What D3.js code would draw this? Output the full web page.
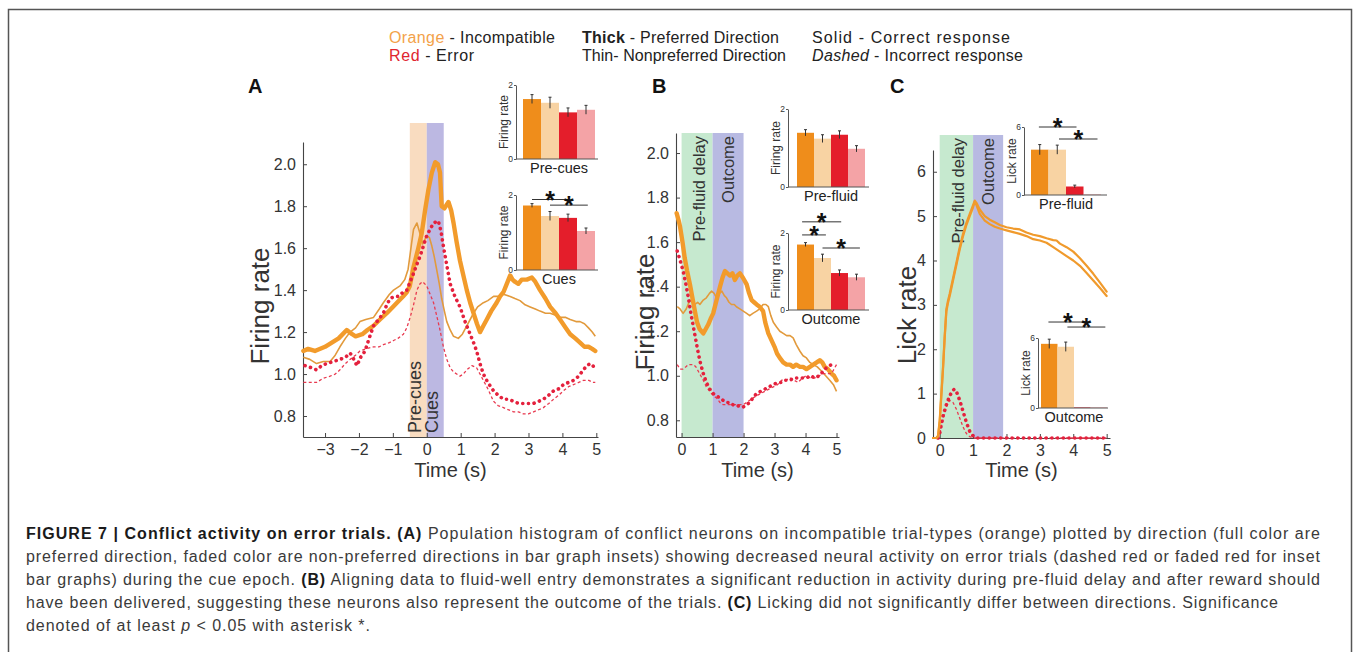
<!DOCTYPE html>
<html>
<head>
<meta charset="utf-8">
<script src="https://cdn.jsdelivr.net/npm/d3@7"></script>
<style>
  body { margin: 0; background: #fff; }
  svg { display: block; font-family: "Liberation Sans", Arial, Helvetica, sans-serif; }
</style>
</head>
<body>
<svg id="fig" width="1354" height="652"></svg>
<script>
// ---- panel A traces: [time (s), firing rate] ----
var aThickOrange = [[-3.64,1.11],[-3.5,1.12],[-3.3,1.11],[-3.0,1.13],[-2.8,1.15],[-2.6,1.17],[-2.36,1.21],[-2.2,1.19],[-2.1,1.18],[-1.9,1.19],[-1.75,1.21],[-1.57,1.23],[-1.38,1.26],[-1.18,1.29],[-1.0,1.32],[-0.88,1.34],[-0.7,1.37],[-0.59,1.39],[-0.5,1.42],[-0.39,1.51],[-0.25,1.6],[-0.15,1.67],[-0.05,1.78],[0.05,1.88],[0.15,1.96],[0.25,2.01],[0.33,2.0],[0.39,1.96],[0.44,1.8],[0.52,1.79],[0.64,1.82],[0.72,1.78],[0.79,1.72],[0.88,1.63],[0.98,1.54],[1.08,1.47],[1.18,1.40],[1.28,1.34],[1.38,1.29],[1.48,1.24],[1.57,1.20],[1.67,1.23],[1.77,1.26],[1.9,1.30],[2.06,1.34],[2.16,1.37],[2.26,1.39],[2.36,1.43],[2.46,1.47],[2.53,1.45],[2.6,1.44],[2.7,1.43],[2.8,1.45],[2.95,1.45],[3.1,1.46],[3.2,1.44],[3.34,1.40],[3.5,1.36],[3.64,1.32],[3.8,1.29],[3.93,1.26],[4.1,1.22],[4.23,1.19],[4.38,1.17],[4.52,1.15],[4.65,1.13],[4.77,1.13],[4.88,1.12],[4.97,1.11]];
var aThinOrange = [[-3.64,1.08],[-3.45,1.07],[-3.25,1.05],[-3.05,1.06],[-2.85,1.06],[-2.7,1.09],[-2.56,1.13],[-2.4,1.17],[-2.26,1.20],[-2.1,1.22],[-1.97,1.25],[-1.8,1.26],[-1.57,1.27],[-1.4,1.31],[-1.28,1.34],[-1.1,1.38],[-0.98,1.40],[-0.79,1.42],[-0.65,1.45],[-0.55,1.50],[-0.45,1.62],[-0.39,1.69],[-0.29,1.72],[-0.2,1.67],[-0.12,1.62],[0.0,1.66],[0.08,1.65],[0.15,1.61],[0.22,1.56],[0.29,1.50],[0.37,1.43],[0.44,1.36],[0.52,1.30],[0.59,1.25],[0.69,1.21],[0.79,1.18],[0.93,1.17],[1.05,1.19],[1.18,1.23],[1.28,1.26],[1.38,1.29],[1.5,1.32],[1.67,1.34],[1.8,1.35],[1.97,1.37],[2.1,1.37],[2.26,1.38],[2.46,1.37],[2.6,1.36],[2.75,1.35],[2.9,1.33],[3.05,1.32],[3.2,1.31],[3.34,1.30],[3.5,1.29],[3.64,1.29],[3.8,1.28],[3.93,1.27],[4.1,1.27],[4.23,1.26],[4.4,1.25],[4.52,1.25],[4.65,1.24],[4.77,1.22],[4.88,1.20],[4.97,1.18]];
var aThickRed = [[-3.59,1.04],[-3.4,1.03],[-3.25,1.02],[-3.1,1.04],[-2.95,1.05],[-2.75,1.06],[-2.56,1.07],[-2.4,1.08],[-2.26,1.10],[-2.15,1.07],[-2.06,1.04],[-1.95,1.08],[-1.82,1.11],[-1.7,1.17],[-1.57,1.23],[-1.42,1.26],[-1.28,1.29],[-1.18,1.33],[-1.08,1.36],[-0.95,1.37],[-0.84,1.37],[-0.7,1.39],[-0.59,1.40],[-0.49,1.44],[-0.39,1.48],[-0.3,1.52],[-0.2,1.56],[-0.1,1.61],[0.0,1.66],[0.1,1.69],[0.2,1.72],[0.34,1.73],[0.42,1.68],[0.49,1.61],[0.59,1.52],[0.69,1.43],[0.83,1.37],[0.98,1.32],[1.13,1.25],[1.28,1.19],[1.38,1.15],[1.47,1.11],[1.57,1.05],[1.67,1.00],[1.8,0.96],[1.97,0.92],[2.1,0.90],[2.26,0.88],[2.4,0.88],[2.56,0.87],[2.7,0.86],[2.85,0.86],[3.0,0.86],[3.15,0.86],[3.3,0.87],[3.44,0.88],[3.6,0.90],[3.74,0.92],[3.9,0.93],[4.03,0.95],[4.18,0.96],[4.33,0.97],[4.48,0.99],[4.62,1.02],[4.72,1.04],[4.82,1.05],[4.9,1.04],[4.97,1.02]];
var aThinRed = [[-3.64,0.96],[-3.45,0.96],[-3.25,0.96],[-3.05,0.98],[-2.85,0.99],[-2.7,1.00],[-2.56,1.02],[-2.4,1.05],[-2.26,1.07],[-2.1,1.09],[-1.97,1.11],[-1.8,1.12],[-1.57,1.13],[-1.4,1.13],[-1.28,1.14],[-1.1,1.15],[-0.98,1.16],[-0.85,1.17],[-0.69,1.19],[-0.59,1.22],[-0.49,1.27],[-0.39,1.33],[-0.29,1.40],[-0.2,1.43],[-0.12,1.44],[0.0,1.42],[0.1,1.38],[0.2,1.34],[0.29,1.28],[0.39,1.21],[0.49,1.13],[0.59,1.07],[0.69,1.03],[0.79,1.01],[0.98,0.99],[1.08,1.00],[1.18,1.02],[1.33,1.04],[1.47,1.03],[1.57,1.00],[1.67,0.97],[1.8,0.93],[1.97,0.87],[2.1,0.85],[2.26,0.84],[2.4,0.83],[2.56,0.82],[2.7,0.82],[2.85,0.81],[3.0,0.81],[3.15,0.82],[3.3,0.83],[3.44,0.84],[3.6,0.86],[3.74,0.88],[3.9,0.90],[4.03,0.92],[4.18,0.94],[4.33,0.95],[4.48,0.96],[4.62,0.97],[4.78,0.97],[4.9,0.96],[4.97,0.96]];

// ---- panel B traces ----
var bThickOrange = [[-0.16,1.73],[-0.1,1.70],[-0.05,1.67],[0.03,1.60],[0.1,1.53],[0.18,1.47],[0.27,1.41],[0.35,1.35],[0.43,1.29],[0.5,1.24],[0.58,1.21],[0.7,1.19],[0.78,1.21],[0.86,1.23],[0.95,1.26],[1.02,1.28],[1.13,1.34],[1.24,1.40],[1.32,1.44],[1.4,1.47],[1.48,1.46],[1.56,1.45],[1.64,1.46],[1.72,1.43],[1.8,1.45],[1.88,1.46],[1.98,1.44],[2.1,1.41],[2.18,1.37],[2.26,1.34],[2.34,1.33],[2.42,1.32],[2.52,1.31],[2.63,1.29],[2.7,1.24],[2.8,1.19],[2.9,1.16],[3.0,1.13],[3.08,1.10],[3.17,1.08],[3.28,1.06],[3.39,1.05],[3.5,1.05],[3.6,1.04],[3.7,1.05],[3.82,1.04],[3.92,1.04],[4.03,1.03],[4.14,1.04],[4.25,1.05],[4.36,1.06],[4.46,1.07],[4.54,1.06],[4.62,1.04],[4.72,1.03],[4.84,1.01],[4.92,1.00],[5.0,0.98]];
var bThinOrange = [[-0.14,1.31],[-0.05,1.30],[0.05,1.28],[0.15,1.30],[0.27,1.34],[0.35,1.33],[0.43,1.32],[0.52,1.33],[0.59,1.32],[0.7,1.34],[0.8,1.35],[0.9,1.37],[0.97,1.38],[1.05,1.37],[1.13,1.35],[1.22,1.37],[1.3,1.38],[1.38,1.36],[1.45,1.35],[1.53,1.33],[1.61,1.32],[1.7,1.32],[1.77,1.31],[1.88,1.30],[1.99,1.29],[2.1,1.28],[2.2,1.27],[2.3,1.28],[2.42,1.29],[2.52,1.30],[2.63,1.32],[2.72,1.32],[2.8,1.31],[2.88,1.27],[2.96,1.24],[3.06,1.22],[3.17,1.20],[3.28,1.19],[3.39,1.18],[3.5,1.18],[3.6,1.17],[3.7,1.14],[3.82,1.11],[3.92,1.09],[4.03,1.08],[4.14,1.06],[4.25,1.05],[4.38,1.04],[4.52,1.02],[4.65,1.00],[4.78,0.98],[4.9,0.96],[5.0,0.93]];
var bThickRed = [[-0.14,1.56],[-0.05,1.52],[0.05,1.47],[0.14,1.41],[0.22,1.35],[0.3,1.28],[0.38,1.22],[0.46,1.16],[0.54,1.10],[0.62,1.05],[0.7,1.01],[0.8,0.97],[0.91,0.94],[1.02,0.92],[1.13,0.91],[1.24,0.90],[1.34,0.89],[1.45,0.88],[1.56,0.88],[1.66,0.87],[1.77,0.87],[1.88,0.86],[1.99,0.86],[2.1,0.87],[2.2,0.88],[2.3,0.90],[2.42,0.92],[2.55,0.93],[2.69,0.94],[2.82,0.95],[2.96,0.96],[3.1,0.97],[3.23,0.97],[3.36,0.98],[3.5,0.98],[3.63,0.99],[3.76,0.99],[3.9,0.99],[4.03,0.99],[4.16,1.00],[4.3,0.99],[4.44,1.00],[4.57,1.02],[4.7,1.04],[4.84,1.05],[4.95,1.04]];
var bThinRed = [[-0.14,1.05],[-0.05,1.03],[0.05,1.03],[0.14,1.04],[0.22,1.05],[0.3,1.05],[0.38,1.05],[0.46,1.04],[0.54,1.02],[0.62,1.00],[0.7,0.98],[0.8,0.95],[0.91,0.93],[1.02,0.91],[1.13,0.90],[1.24,0.88],[1.34,0.87],[1.45,0.87],[1.56,0.87],[1.66,0.87],[1.77,0.87],[1.88,0.87],[1.99,0.87],[2.1,0.88],[2.2,0.89],[2.3,0.90],[2.42,0.91],[2.55,0.92],[2.69,0.93],[2.82,0.94],[2.96,0.95],[3.1,0.96],[3.23,0.98],[3.36,0.98],[3.5,0.99],[3.63,0.98],[3.76,0.97],[3.9,0.99],[4.03,1.00],[4.16,0.99],[4.3,0.99],[4.44,1.00],[4.57,1.01],[4.7,1.01],[4.84,1.01],[4.92,1.03],[5.0,1.05]];

// ---- panel C traces: [time (s), lick rate] ----
var cThickOrange = [[-0.2,0],[-0.1,0],[-0.05,0.05],[0.0,0.4],[0.05,1.0],[0.1,1.6],[0.15,2.3],[0.2,2.9],[0.25,3.1],[0.3,3.25],[0.4,3.6],[0.5,3.95],[0.6,4.3],[0.7,4.6],[0.8,4.85],[0.9,5.05],[1.0,5.25],[1.05,5.35],[1.1,5.3],[1.2,5.15],[1.35,5.0],[1.5,4.92],[1.65,4.86],[1.8,4.8],[2.0,4.75],[2.2,4.72],[2.4,4.7],[2.6,4.63],[2.8,4.58],[3.0,4.55],[3.2,4.5],[3.4,4.46],[3.5,4.45],[3.6,4.38],[3.8,4.3],[4.0,4.2],[4.2,4.05],[4.4,3.88],[4.6,3.7],[4.8,3.5],[5.0,3.3]];
var cThinOrange = [[-0.2,0],[-0.1,0],[-0.05,0.03],[0.0,0.35],[0.05,0.95],[0.1,1.55],[0.15,2.25],[0.2,2.85],[0.25,3.05],[0.3,3.2],[0.4,3.55],[0.5,3.9],[0.6,4.25],[0.7,4.55],[0.8,4.8],[0.9,5.0],[1.0,5.2],[1.05,5.32],[1.1,5.25],[1.2,5.05],[1.35,4.9],[1.5,4.82],[1.65,4.76],[1.8,4.72],[2.0,4.68],[2.2,4.64],[2.4,4.6],[2.6,4.55],[2.8,4.48],[3.0,4.45],[3.2,4.4],[3.4,4.3],[3.6,4.2],[3.8,4.1],[4.0,4.0],[4.2,3.88],[4.4,3.72],[4.6,3.55],[4.8,3.38],[5.0,3.2]];
var cThickRed = [[-0.05,0],[0.0,0.1],[0.05,0.3],[0.1,0.5],[0.2,0.75],[0.3,0.95],[0.4,1.08],[0.45,1.1],[0.5,1.05],[0.6,0.85],[0.7,0.6],[0.8,0.35],[0.9,0.15],[1.0,0.05],[1.1,0.0],[1.5,0],[2,0],[2.5,0],[3,0],[3.5,0],[4,0],[4.5,0],[5,0]];
var cThinRed = [[-0.05,0],[0.0,0.1],[0.1,0.4],[0.2,0.7],[0.3,0.85],[0.4,0.8],[0.5,0.65],[0.6,0.45],[0.7,0.25],[0.8,0.1],[0.9,0.03],[1.0,0],[2,0],[3,0],[4,0],[5,0]];

// ---- inset bar graphs (pref correct, nonpref correct, pref error, nonpref error) ----
var aPreCuesBars = [1.62, 1.52, 1.26, 1.33];
var aPreCuesErr  = [0.12, 0.15, 0.12, 0.12];
var aCuesBars    = [1.72, 1.44, 1.39, 1.04];
var aCuesErr     = [0.05, 0.12, 0.10, 0.08];
var bPreFluidBars = [1.39, 1.24, 1.34, 0.98];
var bPreFluidErr  = [0.08, 0.10, 0.10, 0.08];
var bOutcomeBars  = [1.70, 1.35, 0.96, 0.85];
var bOutcomeErr   = [0.05, 0.10, 0.08, 0.08];
var cPreFluidBars = [4.0, 4.0, 0.75, 0.05];
var cPreFluidErr  = [0.45, 0.40, 0.12, 0];
var cOutcomeBars  = [5.5, 5.25, 0.05, 0.05];
var cOutcomeErr   = [0.40, 0.40, 0, 0];
// significance lines: [from bar, to bar, level]
var aCuesSig     = [[0.5, 2.5, 1.88], [1.5, 3.6, 1.73]];
var bOutcomeSig  = [[0.3, 1.7, 1.95], [0.3, 2.6, 2.29], [1.5, 3.7, 1.61]];
var cPreFluidSig = [[0.45, 2.6, 6.0], [1.6, 3.8, 4.94]];
var cOutcomeSig  = [[0.45, 2.8, 7.37], [1.6, 3.9, 6.94]];

var barColors = ['#ef8d1b', '#f8d3a3', '#e41e2b', '#f4a3a6'];

var svg = d3.select('#fig');

// outer frame
svg.append('rect').attr('x', 8.5).attr('y', 9.5).attr('width', 1343).attr('height', 700)
  .attr('fill', 'none').attr('stroke', '#555').attr('stroke-width', 1.5);

// legend
var legend = svg.append('g').style('font-size', '16px').attr('fill', '#222');
var l1 = legend.append('text').attr('x', 389).attr('y', 43).attr('textLength', 166);
l1.append('tspan').attr('fill', '#f3a24a').text('Orange');
l1.append('tspan').text(' - Incompatible');
var l2 = legend.append('text').attr('x', 389).attr('y', 61).attr('textLength', 85);
l2.append('tspan').attr('fill', '#e0262f').text('Red');
l2.append('tspan').text(' - Error');
var l3 = legend.append('text').attr('x', 582).attr('y', 43).attr('textLength', 197);
l3.append('tspan').style('font-weight', 'bold').text('Thick');
l3.append('tspan').text(' - Preferred Direction');
legend.append('text').attr('x', 582).attr('y', 61).attr('textLength', 204).text('Thin- Nonpreferred Direction');
legend.append('text').attr('x', 812).attr('y', 43).attr('textLength', 198).text('Solid - Correct response');
var l6 = legend.append('text').attr('x', 812).attr('y', 61).attr('textLength', 211);
l6.append('tspan').style('font-style', 'italic').text('Dashed');
l6.append('tspan').text(' - Incorrect response');

var styles = {
  thickOrange: {stroke: '#f29b2b', width: 4.4, dash: null, cap: 'round'},
  thinOrange:  {stroke: '#e29a3c', width: 1.6, dash: null, cap: 'butt'},
  thickRed:    {stroke: '#e4213d', width: 3.6, dash: '0.1 5.6', cap: 'round'},
  thinRed:     {stroke: '#e83a50', width: 1.3, dash: '3 2.4', cap: 'butt'},
  cOrange:     {stroke: '#f09a2c', width: 2.2, dash: null, cap: 'round'}
};

function drawPanel(p) {
  var x = d3.scaleLinear().domain(p.xDomain).range(p.xRange);
  var y = d3.scaleLinear().domain(p.yDomain).range(p.yRange);
  var g = svg.append('g');

  svg.append('text').attr('x', p.letterX).attr('y', 93)
    .style('font-size', '20px').style('font-weight', 'bold').attr('fill', '#111').text(p.letter);

  // epoch bands
  g.selectAll('rect.band').data(p.bands).join('rect').attr('class', 'band')
    .attr('x', function(d){ return x(d.from); })
    .attr('width', function(d){ return x(d.to) - x(d.from); })
    .attr('y', p.bandTop).attr('height', p.yRange[0] - p.bandTop)
    .attr('fill', function(d){ return d.color; });
  g.selectAll('text.band').data(p.bands).join('text').attr('class', 'band')
    .attr('transform', function(d){
      var cx = (x(d.from) + x(d.to)) / 2 + (d.dx || 0);
      var cy = p.bandLabelTop ? p.bandTop + 3 : p.yRange[0] - 4;
      return 'translate(' + cx + ',' + cy + ') rotate(-90)';
    })
    .attr('text-anchor', p.bandLabelTop ? 'end' : 'start')
    .attr('dy', '0.35em')
    .style('font-size', p.bandFont + 'px').attr('fill', '#333')
    .text(function(d){ return d.label; });

  // axes
  g.append('g').attr('transform', 'translate(0,' + p.yRange[0] + ')')
    .call(d3.axisBottom(x).tickValues(p.xTicks).tickFormat(d3.format('d'))
      .tickSizeInner(-4).tickSizeOuter(0).tickPadding(7))
    .call(styleAxis);
  g.append('g').attr('transform', 'translate(' + p.xRange[0] + ',0)')
    .call(d3.axisLeft(y).tickValues(p.yTicks).tickFormat(d3.format(p.yFormat))
      .tickSizeInner(-4).tickSizeOuter(0).tickPadding(7))
    .call(styleAxis);

  g.append('text').attr('x', (p.xRange[0] + p.xRange[1]) / 2).attr('y', 477)
    .attr('text-anchor', 'middle').style('font-size', '20px').attr('fill', '#333').text('Time (s)');
  g.append('text').attr('transform', 'translate(' + p.yLabelX + ',' + p.yLabelY + ') rotate(-90)')
    .attr('text-anchor', 'middle').attr('dy', '0.35em')
    .style('font-size', '26px').attr('fill', '#333').text(p.yLabel);

  // traces
  var line = d3.line().x(function(d){ return x(d[0]); }).y(function(d){ return y(d[1]); });
  p.series.forEach(function(s) {
    var st = styles[s.style];
    g.append('path').datum(s.data).attr('d', line)
      .attr('fill', 'none').attr('stroke', st.stroke).attr('stroke-width', st.width)
      .attr('stroke-dasharray', st.dash).attr('stroke-linecap', st.cap)
      .attr('stroke-linejoin', 'round');
  });
}

function styleAxis(a) {
  a.select('.domain').attr('stroke', '#444').attr('stroke-width', 1.1);
  a.selectAll('.tick line').attr('stroke', '#444');
  a.selectAll('.tick text').style('font-size', '16px').attr('fill', '#333')
    .style('font-family', '"Liberation Sans", Arial, sans-serif');
}

function drawInset(s) {
  var y = d3.scaleLinear().domain([0, s.max]).range([s.bottom, s.top]);
  var bx = d3.scaleLinear().domain([0, 4]).range([s.bar0, s.bar0 + 4 * s.barW]);
  var g = svg.append('g');

  g.selectAll('rect').data(s.values).join('rect')
    .attr('x', function(d, i){ return bx(i); }).attr('width', s.barW)
    .attr('y', function(d){ return y(d); })
    .attr('height', function(d){ return s.bottom - y(d); })
    .attr('fill', function(d, i){ return barColors[i]; });

  var err = s.values.map(function(v, i){ return {v: v, e: s.errs[i], i: i}; })
    .filter(function(d){ return d.e > 0; });
  var eg = g.selectAll('g.err').data(err).join('g').attr('class', 'err')
    .attr('stroke', '#333').attr('stroke-width', 1);
  eg.append('line')
    .attr('x1', function(d){ return bx(d.i + 0.5); }).attr('x2', function(d){ return bx(d.i + 0.5); })
    .attr('y1', function(d){ return y(d.v - d.e); }).attr('y2', function(d){ return y(d.v + d.e); });
  eg.append('line')
    .attr('x1', function(d){ return bx(d.i + 0.5) - 1.5; }).attr('x2', function(d){ return bx(d.i + 0.5) + 1.5; })
    .attr('y1', function(d){ return y(d.v + d.e); }).attr('y2', function(d){ return y(d.v + d.e); });

  // axes
  g.append('g').attr('transform', 'translate(' + s.left + ',0)')
    .call(d3.axisLeft(y).tickValues([0, s.max]).tickFormat(d3.format('d'))
      .tickSizeInner(2).tickSizeOuter(0).tickPadding(1))
    .call(function(a){
      a.select('.domain').attr('stroke', '#555');
      a.selectAll('.tick line').attr('stroke', '#555');
      a.selectAll('.tick text').style('font-size', '8.5px').attr('fill', '#333');
    });
  g.append('line').attr('x1', s.left).attr('x2', s.right).attr('y1', s.bottom).attr('y2', s.bottom)
    .attr('stroke', '#555').attr('stroke-width', 1);

  g.append('text').attr('transform', 'translate(' + (s.left - 12) + ',' + ((s.top + s.bottom) / 2) + ') rotate(-90)')
    .attr('text-anchor', 'middle').attr('dy', '0.35em')
    .style('font-size', '12px').attr('fill', '#333').text(s.ylabel);
  g.append('text').attr('x', bx(2)).attr('y', s.bottom + 14)
    .attr('text-anchor', 'middle').style('font-size', '14.5px').attr('fill', '#222').text(s.xlabel);

  var sg = g.selectAll('g.sig').data(s.sig).join('g').attr('class', 'sig');
  sg.append('line')
    .attr('x1', function(d){ return bx(d[0]); }).attr('x2', function(d){ return bx(d[1]); })
    .attr('y1', function(d){ return y(d[2]); }).attr('y2', function(d){ return y(d[2]); })
    .attr('stroke', '#333').attr('stroke-width', 1);
  sg.append('text')
    .attr('x', function(d){ return (bx(d[0]) + bx(d[1])) / 2; })
    .attr('y', function(d){ return y(d[2]); })
    .attr('dy', '0.36em').attr('text-anchor', 'middle')
    .style('font-size', '25px').style('font-weight', 'bold').attr('fill', '#111').text('*');
}

// ---- panel A ----
drawPanel({
  letter: 'A', letterX: 248,
  xDomain: [-3.65, 5.05], xRange: [303, 598],
  yDomain: [0.7, 2.106], yRange: [437, 142],
  xTicks: [-3, -2, -1, 0, 1, 2, 3, 4, 5], yTicks: [0.8, 1.0, 1.2, 1.4, 1.6, 1.8, 2.0], yFormat: '.1f',
  bands: [{from: -0.5, to: 0, color: '#f9dcc0', label: 'Pre-cues', dx: -4},
          {from: 0, to: 0.5, color: '#bcb8e2', label: 'Cues', dx: -4}],
  bandTop: 123, bandLabelTop: false, bandFont: 18,
  yLabel: 'Firing rate', yLabelX: 260, yLabelY: 306,
  series: [{data: aThinOrange, style: 'thinOrange'}, {data: aThickOrange, style: 'thickOrange'},
           {data: aThinRed, style: 'thinRed'}, {data: aThickRed, style: 'thickRed'}]
});

// ---- panel B ----
drawPanel({
  letter: 'B', letterX: 652,
  xDomain: [-0.18, 5.08], xRange: [676, 839],
  yDomain: [0.725, 2.09], yRange: [437, 133],
  xTicks: [0, 1, 2, 3, 4, 5], yTicks: [0.8, 1.0, 1.2, 1.4, 1.6, 1.8, 2.0], yFormat: '.1f',
  bands: [{from: 0, to: 1, color: '#c6e9cf', label: 'Pre-fluid delay', dx: 2},
          {from: 1, to: 2, color: '#b8bae2', label: 'Outcome', dx: 0}],
  bandTop: 133, bandLabelTop: true, bandFont: 16.5,
  yLabel: 'Firing rate', yLabelX: 645, yLabelY: 312,
  series: [{data: bThinOrange, style: 'thinOrange'}, {data: bThickOrange, style: 'thickOrange'},
           {data: bThinRed, style: 'thinRed'}, {data: bThickRed, style: 'thickRed'}]
});

// ---- panel C ----
drawPanel({
  letter: 'C', letterX: 890,
  xDomain: [-0.2, 5.1], xRange: [933, 1110],
  yDomain: [0, 6.49], yRange: [438, 150],
  xTicks: [0, 1, 2, 3, 4, 5], yTicks: [0, 1, 2, 3, 4, 5, 6], yFormat: 'd',
  bands: [{from: 0, to: 1, color: '#c6e9cf', label: 'Pre-fluid delay', dx: 2},
          {from: 1, to: 1.9, color: '#b8bae2', label: 'Outcome', dx: 0}],
  bandTop: 135, bandLabelTop: true, bandFont: 16.5,
  yLabel: 'Lick rate', yLabelX: 907, yLabelY: 315,
  series: [{data: cThinRed, style: 'thinRed'}, {data: cThickRed, style: 'thickRed'},
           {data: cThinOrange, style: 'cOrange'}, {data: cThickOrange, style: 'cOrange'}]
});

// ---- insets ----
drawInset({left: 516, right: 598, bottom: 159, top: 85, bar0: 523, barW: 18, max: 2,
  values: aPreCuesBars, errs: aPreCuesErr, sig: [], xlabel: 'Pre-cues', ylabel: 'Firing rate'});
drawInset({left: 516, right: 598, bottom: 270, top: 195, bar0: 523, barW: 18, max: 2,
  values: aCuesBars, errs: aCuesErr, sig: aCuesSig, xlabel: 'Cues', ylabel: 'Firing rate'});
drawInset({left: 788, right: 869, bottom: 187, top: 109, bar0: 797, barW: 17, max: 2,
  values: bPreFluidBars, errs: bPreFluidErr, sig: [], xlabel: 'Pre-fluid', ylabel: 'Firing rate'});
drawInset({left: 788, right: 869, bottom: 310, top: 233, bar0: 797, barW: 17, max: 2,
  values: bOutcomeBars, errs: bOutcomeErr, sig: bOutcomeSig, xlabel: 'Outcome', ylabel: 'Firing rate'});
drawInset({left: 1024, right: 1107, bottom: 195, top: 127, bar0: 1031, barW: 17.5, max: 6,
  values: cPreFluidBars, errs: cPreFluidErr, sig: cPreFluidSig, xlabel: 'Pre-fluid', ylabel: 'Lick rate'});
drawInset({left: 1038, right: 1108, bottom: 408, top: 338, bar0: 1041, barW: 16.5, max: 6,
  values: cOutcomeBars, errs: cOutcomeErr, sig: cOutcomeSig, xlabel: 'Outcome', ylabel: 'Lick rate'});

// ---- caption ----
var cap = svg.append('g').style('font-size', '16px').attr('fill', '#3a3a3a');
var c1 = cap.append('text').attr('x', 26).attr('y', 539).attr('textLength', 1294);
c1.append('tspan').style('font-weight', 'bold').attr('fill', '#1a1a1a').text('FIGURE 7 | Conflict activity on error trials. (A)');
c1.append('tspan').text(' Population histogram of conflict neurons on incompatible trial-types (orange) plotted by direction (full color are');
cap.append('text').attr('x', 26).attr('y', 562).attr('textLength', 1294)
  .text('preferred direction, faded color are non-preferred directions in bar graph insets) showing decreased neural activity on error trials (dashed red or faded red for inset');
var c3 = cap.append('text').attr('x', 26).attr('y', 585).attr('textLength', 1294);
c3.append('tspan').text('bar graphs) during the cue epoch. ');
c3.append('tspan').style('font-weight', 'bold').attr('fill', '#1a1a1a').text('(B)');
c3.append('tspan').text(' Aligning data to fluid-well entry demonstrates a significant reduction in activity during pre-fluid delay and after reward should');
var c4 = cap.append('text').attr('x', 26).attr('y', 608).attr('textLength', 1252);
c4.append('tspan').text('have been delivered, suggesting these neurons also represent the outcome of the trials. ');
c4.append('tspan').style('font-weight', 'bold').attr('fill', '#1a1a1a').text('(C)');
c4.append('tspan').text(' Licking did not significantly differ between directions. Significance');
var c5 = cap.append('text').attr('x', 26).attr('y', 631).attr('textLength', 344);
c5.append('tspan').text('denoted of at least ');
c5.append('tspan').style('font-style', 'italic').text('p');
c5.append('tspan').text(' < 0.05 with asterisk *.');
</script>
</body>
</html>
